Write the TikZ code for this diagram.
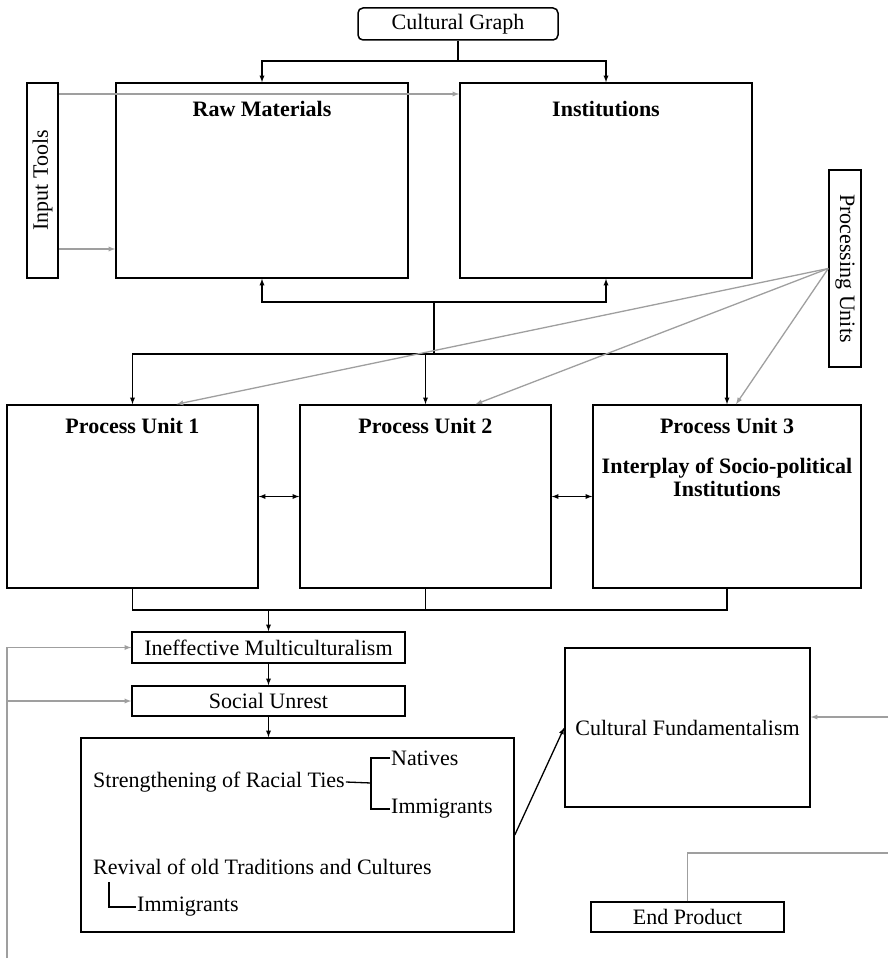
\documentclass[tikz,border=0pt]{standalone}
\usepackage{fontspec}
\setmainfont{Liberation Serif}
\usetikzlibrary{positioning}

\begin{document}
\fontsize{22}{23}\selectfont
\begin{tikzpicture}[x=1pt, y=-1pt,
    box/.style={draw, line width=1.5pt, inner sep=2pt},
    ttl/.style={anchor=center, yshift=-27pt, font=\bfseries},
    pttl/.style={anchor=center, yshift=-22pt, font=\bfseries},
    txt/.style={anchor=west, inner sep=1pt},
    arr/.style={->, >=latex, line width=1.3pt},
    link/.style={line width=1.3pt},
    garr/.style={->, >=latex, gray!75, line width=1.3pt},
    gline/.style={gray!75, line width=1.3pt}
  ]
  \useasboundingbox (0,0) rectangle (888,965);

  % top row
  \node[box, rounded corners=5pt, minimum width=200pt, minimum height=32pt] (cg) at (458,24) {Cultural Graph};
  \node[box, minimum width=292pt, minimum height=195pt, label={[ttl]north:Raw Materials}] (raw) at (262,180.5) {};
  \node[box, minimum width=292pt, minimum height=195pt, label={[ttl]north:Institutions}] (inst) at (606,180.5) {};
  \node[box, rotate=90, minimum width=195pt, minimum height=31pt] (inp) at (42.5,180.5) {Input Tools};
  \node[box, rotate=-90, minimum width=197pt, minimum height=32pt] (proc) at (845,268.5) {Processing Units};

  % process units
  \node[box, minimum width=251pt, minimum height=183pt, label={[pttl]north:Process Unit 1}] (pu1) at (132.5,496.5) {};
  \node[box, minimum width=251pt, minimum height=183pt, label={[pttl]north:Process Unit 2}] (pu2) at (425.5,496.5) {};
  \node[box, minimum width=268pt, minimum height=183pt, label={[pttl]north:Process Unit 3},
    label={[pttl, yshift=-51.5pt, align=center]north:Interplay of Socio-political\\Institutions}] (pu3) at (727,496.5) {};

  % outcomes
  \node[box, minimum width=273pt, minimum height=31pt] (ineff) at (268.5,647.5) {Ineffective Multiculturalism};
  \node[box, minimum width=273pt, minimum height=30pt] (unrest) at (268.5,701) {Social Unrest};
  \node[box, minimum width=433pt, minimum height=194pt] (react) at (297.5,835) {};
  \node[txt] (ties) at (92,782) {Strengthening of Racial Ties};
  \node[txt] (nat) at (390,758) {Natives};
  \node[txt] (imm1) at (390,809) {Immigrants};
  \node[txt] (rev) at (92,867) {Revival of old Traditions and Cultures};
  \node[txt] (imm2) at (136,907) {Immigrants};
  \node[box, minimum width=245pt, minimum height=159pt] (fund) at (687.5,727.5) {Cultural Fundamentalism};
  \node[box, minimum width=193pt, minimum height=30pt] (endp) at (687.5,917) {End Product};

  % forks
  \coordinate (topfork) at (458,61);
  \coordinate (midfork) at (434,302);
  \coordinate (pufork) at (434,354);
  \coordinate (lowbar) at (425.5,610);
  \coordinate (fork) at (371,783);
  \coordinate (rvfork) at (109,882);
  \coordinate (it1) at ([yshift=86.5pt]inp.south);
  \coordinate (it2) at ([yshift=-68.5pt]inp.south);
  \coordinate (rin) at (888,717);
  \coordinate (rout) at (888,853);
  \coordinate (lbot) at (7,958);

  \draw[link] (cg) -- (topfork);
  \draw[arr] (topfork) -| (raw);
  \draw[arr] (topfork) -| (inst);
  \draw[arr] (midfork) -| (raw);
  \draw[arr] (midfork) -| (inst);
  \draw[link] (midfork) -- (pufork);
  \draw[arr] (pufork) -| (pu1);
  \draw[arr] (pufork) -| (pu2);
  \draw[arr] (pufork) -| (pu3);
  \draw[arr, <->] (pu1) -- (pu2);
  \draw[arr, <->] (pu2) -- (pu3);
  \draw[link] (pu1.south) |- (lowbar) -| (pu3.south);
  \draw[link] (pu2.south) -- (lowbar);
  \draw[arr] (ineff |- lowbar) -- (ineff);
  \draw[arr] (ineff) -- (unrest);
  \draw[arr] (unrest.south) -- (unrest.south |- react.north);
  \draw[link] (ties.east) -- (fork);
  \draw[link] (nat.west) -| (fork) |- (imm1.west);
  \draw[link] (rvfork) |- (imm2.west);
  \draw[arr] (react.east) -- (fund.west);

  % gray inputs
  \draw[garr] (it1) -- (it1 -| inst.west);
  \draw[garr] (it2) -- (it2 -| raw.west);
  \draw[garr] (proc.south) -- ([xshift=44pt]pu1.north);
  \draw[garr] (proc.south) -- ([xshift=50pt]pu2.north);
  \draw[garr] (proc.south) -- ([xshift=9pt]pu3.north);
  \draw[garr] (rin) -- (rin -| fund.east);
  \draw[gline] (endp.north) |- (rout);
  \draw[garr] (lbot) |- (ineff);
  \draw[garr] (unrest.west -| lbot) -- (unrest);
\end{tikzpicture}
\end{document}
